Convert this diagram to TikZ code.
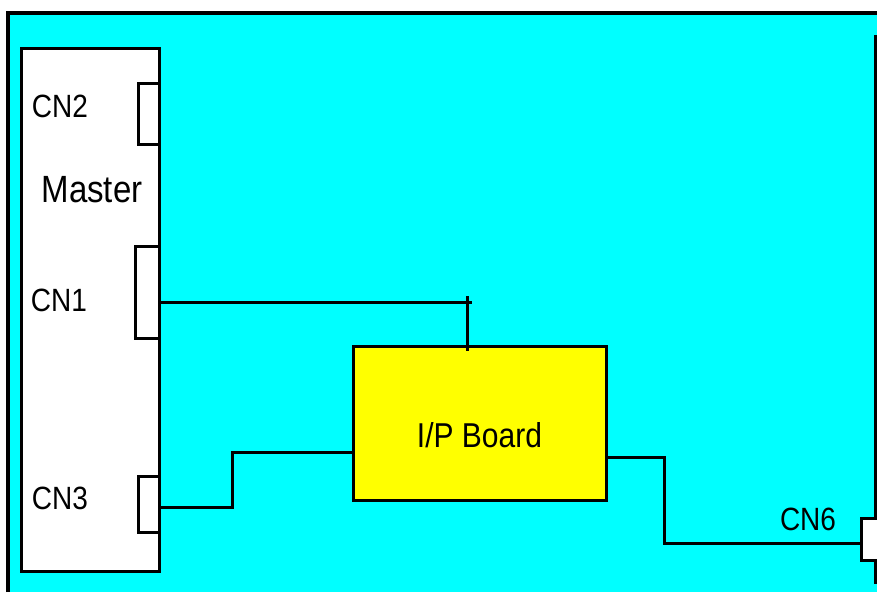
\documentclass[tikz,border=0pt]{standalone}
\usepackage{fontspec}
\setmainfont{Liberation Sans}
\usetikzlibrary{positioning}
\definecolor{panelcyan}{RGB}{0,255,255}
\definecolor{boardyellow}{RGB}{255,255,0}
\newcommand{\tall}[1]{\scalebox{1}[1.15]{#1}}

\begin{document}
\begin{tikzpicture}[x=1pt, y=-1pt,
        box/.style={draw, line width=3pt, fill=white, inner sep=0pt, outer sep=0pt},
        plug/.style={box, anchor=north east},
        lbl/.style={font=\fontsize{28}{28}\selectfont, inner sep=0pt},
        wire/.style={line width=3pt}]
        \useasboundingbox (0,0) rectangle (877,592);

        % Panel (cyan backplane)
        \fill[panelcyan] (8,13) rectangle (877,592);
        \draw[line width=4pt] (8,592) -- (8,13) -- (877,13);
        \draw[line width=3pt] (875.5,35) -- (875.5,584);

        % Master board with its connectors
        \node[box, anchor=north west, minimum width=138pt, minimum height=523pt] (master) at (21,48) {};
        \node[plug, minimum width=21pt, minimum height=61pt] (cn2) at (159,83) {};
        \node[plug, minimum width=24pt, minimum height=92pt] (cn1) at (159,246) {};
        \node[plug, minimum width=21pt, minimum height=56pt] (cn3) at (159,476) {};
        \node[lbl] (cn2lbl) at (60,106) {\tall{CN2}};
        \node[lbl, font=\fontsize{33}{33}\selectfont] (masterlbl) at (92,190) {\tall{Master}};
        \node[lbl] (cn1lbl) at (59,300) {\tall{CN1}};
        \node[lbl] (cn3lbl) at (60,498) {\tall{CN3}};

        % I/P board
        \node[box, fill=boardyellow, anchor=north west, minimum width=253pt, minimum height=154pt] (board) at (353,346) {};
        \node[lbl, font=\fontsize{30}{30}\selectfont] (boardlbl) at ([yshift=-12pt]board.center) {\tall{I/P Board}};

        % CN6 on the right edge
        \node[box, anchor=north west, minimum width=30pt, minimum height=42pt] (cn6) at (861,518) {};
        \node[lbl] (cn6lbl) at (808,519) {\tall{CN6}};

        % Wiring
        \coordinate (tee) at (467,302);
        \draw[wire] (cn1.east |- tee) -- ([xshift=5pt]tee);
        \draw[wire] ([yshift=6pt]tee) -- ([yshift=-5pt]tee |- board.north);
        \draw[wire] ([yshift=-3pt]cn3.east) -- ++(73,0) |- ([yshift=-29pt]board.west);
        \draw[wire] ([yshift=-34pt]board.east) -| (664,543) -- (cn6.west |- 0,543);
    \end{tikzpicture}
\end{document}
